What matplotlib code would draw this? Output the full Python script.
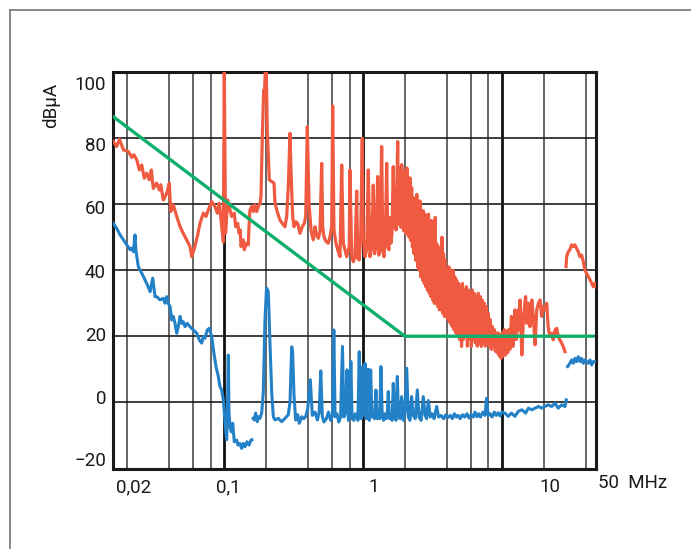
import matplotlib
matplotlib.use("Agg")
import matplotlib.pyplot as plt
from matplotlib.lines import Line2D
from matplotlib.ticker import NullLocator

# measured spectrum, red trace (0.016 .. 28 MHz), values in dBuA
red_f = [0.0160, 0.0169, 0.0177, 0.0189, 0.0205, 0.0217, 0.0225, 0.0236, 0.0246, 0.0256,
         0.0267, 0.0278, 0.0290, 0.0300, 0.0310, 0.0328, 0.0343, 0.0351, 0.0366, 0.0387,
         0.0404, 0.0414, 0.0432, 0.0457, 0.0483, 0.0509, 0.0539, 0.0569, 0.0586, 0.0608,
         0.0643, 0.0672, 0.0710, 0.0742, 0.0771, 0.0816, 0.0861, 0.0895, 0.0925, 0.0946,
         0.0989, 0.1005, 0.1026, 0.1064, 0.1105, 0.1135, 0.1186, 0.1213, 0.1256, 0.1283,
         0.1310, 0.1325, 0.1377, 0.1400, 0.1456, 0.1496, 0.1513, 0.1538, 0.1582, 0.1625,
         0.1671, 0.1719, 0.1766, 0.1816, 0.1846, 0.1887, 0.1930, 0.1950, 0.1983, 0.2015,
         0.2050, 0.2118, 0.2204, 0.2291, 0.2328, 0.2434, 0.2529, 0.2627, 0.2747, 0.2825,
         0.2902, 0.2985, 0.3034, 0.3120, 0.3190, 0.3297, 0.3389, 0.3522, 0.3660, 0.3784,
         0.3872, 0.3975, 0.4090, 0.4227, 0.4389, 0.4517, 0.4645, 0.4769, 0.4907, 0.5047,
         0.5129, 0.5240, 0.5418, 0.5625, 0.5790, 0.5956, 0.6053, 0.6185, 0.6393, 0.6640,
         0.6836, 0.7030, 0.7218, 0.7426, 0.7637, 0.7969, 0.8058, 0.8293, 0.8518, 0.8758,
         0.9010, 0.9165, 0.9404, 0.9624, 0.9885, 1.005, 1.034, 1.063, 1.092, 1.123,
         1.160, 1.186, 1.210, 1.240, 1.275, 1.300, 1.325, 1.363, 1.390, 1.416,
         1.450, 1.481, 1.510, 1.538, 1.560, 1.589, 1.620, 1.652, 1.675, 1.700,
         1.730, 1.778, 1.80, 1.82, 1.84, 1.86, 1.88, 1.90, 1.92, 1.94,
         1.96, 1.98, 2.00, 2.02, 2.04, 2.07, 2.10, 2.12, 2.15, 2.18,
         2.21, 2.24, 2.27, 2.30, 2.33, 2.37, 2.40, 2.44, 2.47, 2.50,
         2.54, 2.57, 2.61, 2.65, 2.69, 2.72, 2.76, 2.80, 2.84, 2.87,
         2.91, 2.96, 3.00, 3.04, 3.08, 3.12, 3.17, 3.21, 3.26, 3.31,
         3.35, 3.40, 3.45, 3.50, 3.55, 3.60, 3.65, 3.70, 3.75, 3.80,
         3.86, 3.92, 3.98, 4.04, 4.10, 4.17, 4.24, 4.30, 4.37, 4.44,
         4.51, 4.58, 4.65, 4.72, 4.80, 4.88, 4.96, 5.04, 5.12, 5.20,
         5.28, 5.37, 5.46, 5.55, 5.64, 5.73, 5.82, 5.92, 6.02, 6.12,
         6.22, 6.32, 6.43, 6.54, 6.65, 6.76, 6.87, 6.99, 7.10, 7.22,
         7.34, 7.46, 7.58, 7.71, 7.84, 7.97, 8.10, 8.24, 8.38, 8.52,
         8.66, 8.80, 8.95, 9.10, 9.25, 9.40, 9.56, 9.72, 9.88, 10.05,
         10.2, 10.4, 10.6, 10.8, 11.0, 11.2, 11.4, 11.7, 12.0, 12.4,
         12.7, 13.1, 13.3, 13.5, 13.9, 14.3, 14.8, 15.1, 15.5, 15.9,
         16.4, 16.8, 17.3, 17.8, 18.3, 18.8, 19.3, 19.8, 20.4, 21.0,
         21.5, 22.1, 22.8, 23.4, 24.1, 24.8, 25.4, 26.1, 26.9, 27.6,
         28.4]
red_db = [79.0, 77.5, 79.7, 76.5, 76.0, 74.2, 75.0, 73.4, 70.4, 71.9,
          67.9, 69.4, 67.4, 70.4, 64.8, 66.4, 64.3, 65.9, 61.3, 63.3,
          66.4, 57.8, 59.8, 56.3, 53.2, 51.2, 49.2, 47.2, 44.1, 46.2,
          50.2, 54.2, 57.3, 56.3, 58.3, 60.8, 59.3, 57.3, 60.3, 56.3,
          48.5, 100.5, 51.2, 61.3, 58.3, 56.3, 57.3, 53.2, 54.2, 51.2,
          52.2, 47.2, 49.2, 46.2, 48.2, 47.7, 53.2, 58.3, 59.3, 57.8,
          59.8, 57.8, 59.3, 60.3, 62.3, 80.5, 94.6, 92.0, 100.5, 100.5,
          82.0, 67.4, 66.9, 66.4, 60.3, 57.3, 55.2, 54.2, 53.2, 56.3,
          65.3, 81.5, 70.4, 56.3, 53.2, 54.7, 54.2, 51.2, 53.2, 54.2,
          56.3, 83.5, 60.3, 52.2, 49.2, 53.2, 50.7, 49.7, 51.7, 72.4,
          53.2, 50.2, 48.7, 48.2, 50.2, 53.2, 89.8, 52.2, 48.2, 45.6,
          44.1, 71.9, 48.2, 46.2, 44.1, 47.2, 70.4, 44.6, 42.6, 44.1,
          64.0, 43.6, 43.1, 50.2, 80.0, 50.2, 44.1, 46.2, 70.4, 44.1,
          48.0, 65.8, 45.0, 47.0, 68.4, 44.6, 46.0, 77.5, 46.0, 44.1,
          50.0, 72.4, 47.0, 46.2, 56.0, 48.2, 52.0, 71.4, 53.2, 60.0,
          52.2, 79.0, 54, 71, 55, 69, 53, 72, 56, 68,
          52, 70, 54, 67, 51, 71, 55, 66, 50, 68,
          49, 65, 47, 62, 45, 60, 43, 63, 41, 59,
          40, 61, 38, 58, 37, 58, 36, 57, 35, 56,
          34, 57, 33, 55, 32, 55, 31, 53, 30, 56,
          30, 48, 29, 47, 28, 46, 28, 50, 27, 45,
          26, 43, 26, 40, 25, 41, 24, 39, 23, 40,
          22, 38, 21, 37, 20, 36, 19, 35, 16.9, 36,
          19, 34, 20, 35, 17, 34, 19, 33, 16.9, 34,
          19, 33, 18, 32, 17, 33, 18, 32, 16.9, 31,
          18, 30, 17, 29, 18, 27, 17, 25, 16, 23,
          17, 22, 15.5, 21, 15, 21, 14, 20.5, 13.3, 21,
          14, 22, 14.3, 21.5, 15, 22, 16, 26, 16.9, 28.0,
          19, 28.0, 21.9, 31.0, 14.3, 26.0, 32.0, 23.9, 30.0, 22.9,
          31.0, 26.0, 17.4, 28.0, 30.0, 31.0, 26.0, 29.0, 28.0, 30.0,
          22.9, 19.9, 20.9, 18.9, 21.9, 22.4, 19.9, 18.9, 17.9, 16.9,
          15.3]

# red trace above 28 MHz
red2_f = [28.9, 29.2, 30.0, 30.8, 31.7, 32.6, 33.5, 34.4, 35.4, 36.4,
          37.4, 38.5, 39.5, 40.6, 41.8, 43.0, 44.2, 45.4, 46.7, 47.4]
red2_db = [41.1, 44.1, 45.6, 46.2, 47.7, 47.2, 47.7, 46.7, 45.6, 44.1,
           44.6, 42.6, 40.1, 39.1, 38.1, 37.1, 36.1, 35.0, 36.1, 35.0]

# blue trace, first part (below 0.16 MHz)
blue1_f = [0.0160, 0.0169, 0.0179, 0.0189, 0.0200, 0.0211, 0.0217, 0.0223, 0.0229, 0.0233,
           0.0242, 0.0256, 0.0270, 0.0285, 0.0294, 0.0307, 0.0319, 0.0328, 0.0347, 0.0366,
           0.0377, 0.0387, 0.0397, 0.0409, 0.0421, 0.0432, 0.0444, 0.0457, 0.0469, 0.0483,
           0.0496, 0.0509, 0.0524, 0.0544, 0.0569, 0.0601, 0.0637, 0.0664, 0.0691, 0.0710,
           0.0730, 0.0758, 0.0784, 0.0816, 0.0847, 0.0876, 0.0910, 0.0936, 0.0962, 0.0989,
           0.1028, 0.1045, 0.1057, 0.1074, 0.1086, 0.1105, 0.1129, 0.1156, 0.1186, 0.1234,
           0.1262, 0.1303, 0.1340, 0.1377, 0.1416, 0.1463, 0.1513, 0.1563, 0.1590]
blue1_db = [54.2, 52.7, 50.7, 49.2, 47.7, 46.2, 46.7, 45.6, 50.7, 45.6,
            41.1, 39.1, 37.1, 35.0, 33.5, 37.6, 32.0, 32.0, 31.0, 31.5,
            30.0, 32.0, 30.0, 29.0, 24.9, 26.0, 23.9, 20.9, 22.9, 26.0,
            23.9, 24.4, 22.9, 23.9, 22.9, 21.9, 20.9, 18.9, 17.9, 19.9,
            19.4, 21.9, 22.4, 19.9, 14.8, 10.8, 7.8, 4.7, 3.7, 0.7,
            -8.4, -11.4, -5.0, 14.3, -3.0, -7.4, -9.0, -6.4, -12.0, -11.5,
            -13.0, -12.5, -14.0, -12.5, -13.5, -12.0, -13.0, -11.5, -11.4]

# blue trace, second part (0.16 .. 29 MHz)
blue2_f = [0.162, 0.1652, 0.169, 0.1737, 0.1766, 0.1816, 0.1867, 0.1918, 0.1972, 0.2023,
           0.2084, 0.2142, 0.2204, 0.2265, 0.2328, 0.246, 0.260, 0.2747, 0.2902, 0.2985,
           0.3070, 0.3120, 0.3190, 0.3280, 0.3389, 0.3483, 0.3623, 0.3743, 0.3872, 0.400,
           0.418, 0.432, 0.452, 0.470, 0.484, 0.497, 0.510, 0.524, 0.545, 0.565,
           0.585, 0.603, 0.617, 0.630, 0.650, 0.670, 0.690, 0.712, 0.728, 0.745,
           0.768, 0.785, 0.800, 0.818, 0.835, 0.860, 0.880, 0.900, 0.920, 0.940,
           0.957, 0.975, 0.995, 1.012, 1.034, 1.055, 1.075, 1.092, 1.110, 1.136,
           1.160, 1.185, 1.210, 1.240, 1.265, 1.290, 1.320, 1.347, 1.375, 1.405,
           1.435, 1.465, 1.495, 1.521, 1.550, 1.585, 1.620, 1.652, 1.690, 1.730,
           1.766, 1.800, 1.850, 1.898, 1.950, 2.000, 2.063, 2.120, 2.180, 2.239,
           2.300, 2.380, 2.459, 2.530, 2.620, 2.716, 2.800, 2.870, 2.951, 3.050,
           3.150, 3.250, 3.390, 3.500, 3.650, 3.800, 3.950, 4.100, 4.250, 4.400,
           4.550, 4.700, 4.850, 5.000, 5.200, 5.400, 5.600, 5.800, 6.000, 6.200,
           6.400, 6.600, 6.800, 7.000, 7.300, 7.550, 7.760, 7.950, 8.200, 8.500,
           8.800, 9.100, 9.400, 9.700, 10.0, 10.5, 11.1, 11.7, 12.4, 13.1,
           13.9, 14.8, 15.5, 16.4, 17.3, 18.3, 19.3, 20.4, 21.5, 22.8,
           24.1, 25.4, 26.9, 28.4, 29.0]
blue2_db = [-4.9, -5.4, -3.3, -5.9, -4.4, -4.9, -3.3, 3.0, 25.0, 34.6,
            33.5, 18.0, 3.0, -4.4, -5.4, -4.9, -5.9, -4.9, -3.8, 0.0,
            16.8, 15.0, 2.0, -5.4, -3.8, -6.4, -4.4, -5.0, -4.4, -2.0,
            6.8, -4.0, -3.0, -5.4, -3.0, 9.5, -4.4, -6.0, -5.0, -3.0,
            -5.5, -4.0, 21.9, -4.4, -3.5, -6.0, -4.5, 16.9, -4.5, -3.5,
            9.8, -5.5, -4.0, 12.3, -5.0, -5.5, -3.5, -4.0, -5.5, 15.3,
            -4.5, -5.0, 10.8, -4.0, 11.8, -5.0, -3.0, 10.0, -5.5, 9.8,
            -4.5, -3.0, -5.0, 3.7, -5.0, -3.0, -5.0, 10.8, -4.0, -5.5,
            -3.5, -5.0, -4.0, 3.2, -5.0, -4.0, -5.5, 5.7, -4.0, -5.5,
            7.8, -4.0, -5.0, 1.7, -5.5, -3.5, 10.3, -4.5, -5.5, 1.7,
            -4.0, -5.0, 3.7, -4.5, -5.5, 1.7, -4.0, -5.0, 0.5, -4.5,
            -3.5, -5.0, -1.3, -4.5, -4.0, -5.0, -3.8, -4.6, -4.0, -5.0,
            -3.5, -4.5, -4.0, -5.0, -3.8, -4.5, -3.5, -4.8, -3.8, -4.5,
            -3.0, -4.4, -3.5, -4.5, -3.0, -4.0, 1.2, -4.0, -3.5, -4.5,
            -3.0, -4.0, -3.2, -4.2, -3.0, -3.3, -4.3, -3.3, -4.3, -2.8,
            -2.3, -3.3, -1.8, -2.3, -1.8, -1.3, -1.8, -1.3, -0.8, -1.3,
            -0.3, -1.8, -0.8, -1.3, 0.7]

# blue trace above 29 MHz
blue3_f = [29.7, 30.8, 31.7, 32.6, 33.5, 34.4, 35.4, 36.4, 37.4, 38.5,
           39.5, 40.6, 41.8, 43.0, 44.2, 45.4, 47.0]
blue3_db = [10.8, 11.8, 12.8, 11.8, 13.3, 12.3, 13.8, 12.3, 13.3, 11.8,
            12.8, 12.3, 11.8, 12.8, 11.3, 12.3, 12.3]

# limit line
limit_f = [0.0159, 2.0, 45.0]
limit_db = [86.6, 20.0, 20.0]

# axis decoration
grid_f = [0.02, 0.04, 0.06, 0.08, 0.2, 0.4, 0.6, 0.8, 2, 4, 6, 8, 20, 40]
decade_f = [0.1, 1, 10]
grid_db = [0, 20, 40, 60, 80]
xlabel_pos = [0.0225, 0.107, 1.19, 22.0]
xlabel_txt = ["0,02", "0,1", "1", "10"]
ylabel_pos = [96.9, 78.4, 59.1, 39.9, 20.8, 1.7, -17.1]
ylabel_txt = ["100", "80", "60", "40", "20", "0", "\u221220"]

RED = "#f05a40"
BLUE = "#2381c8"
GREEN = "#0db06a"

plt.rcParams["font.family"] = ["Liberation Sans Narrow", "Roboto", "DejaVu Sans"]
plt.rcParams["font.size"] = 13.5

fig = plt.figure(figsize=(6.91, 5.49), dpi=100)
ax = fig.add_axes([113 / 691, 1 - 468.5 / 549, 483 / 691, 396.2 / 549])

ax.set_xscale("log")
ax.set_xlim(0.0159, 47.5)
ax.set_ylim(-20.1, 100)

for f in grid_f:
    ax.axvline(f, color="#3c3c3c", lw=1.1, zorder=1)
for f in decade_f:
    ax.axvline(f, color="#111111", lw=2.0, zorder=1)
for v in grid_db:
    ax.axhline(v, color="#1e1e1e", lw=1.2, zorder=1)

ax.plot(red_f, red_db, color=RED, lw=2.3, zorder=3)
ax.plot(red2_f, red2_db, color=RED, lw=2.3, zorder=3)
ax.plot(blue1_f, blue1_db, color=BLUE, lw=2.2, zorder=3)
ax.plot(blue2_f, blue2_db, color=BLUE, lw=2.2, zorder=3)
ax.plot(blue3_f, blue3_db, color=BLUE, lw=2.2, zorder=3)
ax.plot(limit_f, limit_db, color=GREEN, lw=2.4, zorder=4)

ax.xaxis.set_minor_locator(NullLocator())
ax.set_xticks(xlabel_pos)
ax.set_xticklabels(xlabel_txt)
ax.set_yticks(ylabel_pos)
ax.set_yticklabels(ylabel_txt)
ax.tick_params(axis="both", length=0, colors="#1a1a1a")
ax.tick_params(axis="x", pad=7)
ax.tick_params(axis="y", pad=5)

for s in ax.spines.values():
    s.set_linewidth(2.2)
    s.set_color("#1a1a1a")

fig.text(598 / 691, 1 - 483 / 549, "50  MHz", ha="left", va="center", color="#1a1a1a")
fig.text(51 / 691, 1 - 105 / 549, "dB\u03bcA", rotation=90, ha="center", va="center",
         color="#1a1a1a")

# grey frame around the graphic
fig.add_artist(Line2D([10 / 691, 10 / 691], [0, 1 - 10 / 549], color="#808080", lw=1.3))
fig.add_artist(Line2D([10 / 691, 1], [1 - 10 / 549, 1 - 10 / 549], color="#808080", lw=1.3))

fig.savefig("out.png", dpi=100)
